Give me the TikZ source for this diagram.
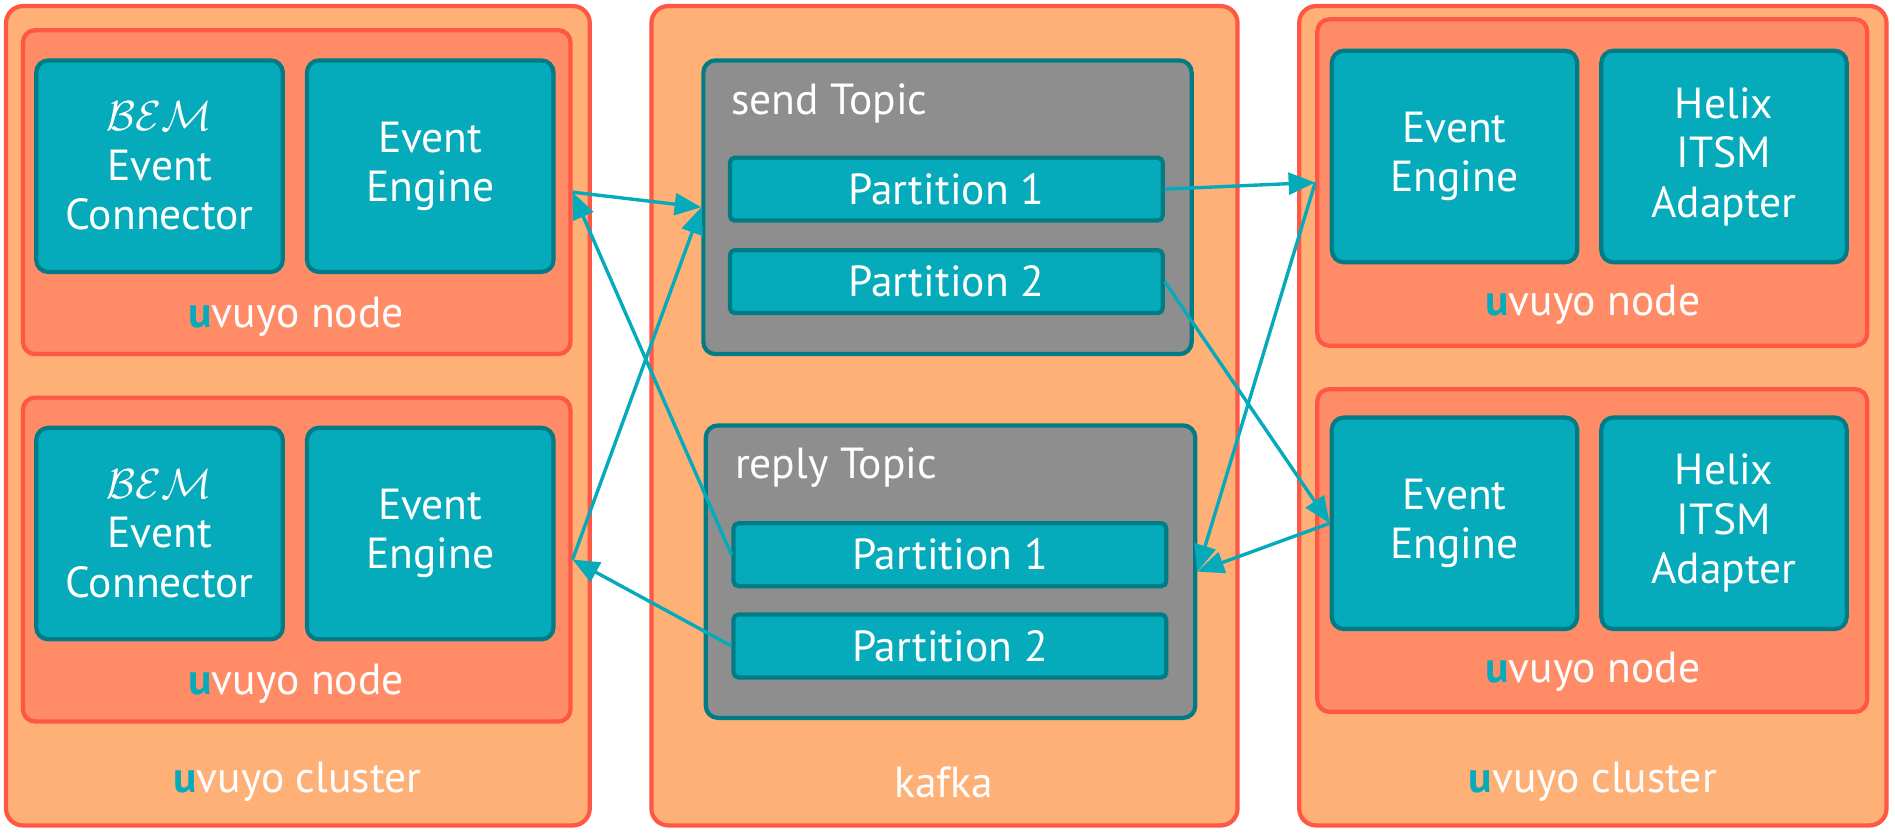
\documentclass[tikz,border=0pt]{standalone}
\usepackage{graphicx}
\usepackage{fontspec}
\setmainfont{PT Sans}
\usetikzlibrary{arrows.meta}
\definecolor{clfill}{HTML}{FFB077}
\definecolor{ndfill}{HTML}{FF8C66}
\definecolor{redline}{HTML}{FF5745}
\definecolor{tealc}{HTML}{05AABB}
\definecolor{tealdark}{HTML}{007C87}
\definecolor{grayc}{HTML}{8E8E8E}
\newcommand{\uvy}{\textcolor{tealc}{\textbf{u}}vuyo}
\newcommand{\bemlogo}{\scalebox{1.4}{$\mathcal{BEM}$}}
\begin{document}
\begin{tikzpicture}[x=1pt,y=-1pt,
  txt/.style={text=white, font=\fontsize{36}{41}\selectfont, inner sep=0pt},
  cluster/.style={draw=redline, line width=3.5pt, fill=clfill, rounded corners=14pt, inner sep=0pt},
  unode/.style={draw=redline, line width=3.5pt, fill=ndfill, rounded corners=10pt, inner sep=0pt},
  tbox/.style={draw=tealdark, line width=3.5pt, fill=tealc, rounded corners=10pt, txt, align=center, minimum width=204pt, minimum height=175pt},
  topic/.style={draw=tealdark, line width=3.5pt, fill=grayc, rounded corners=10pt, inner sep=0pt},
  part/.style={draw=tealdark, line width=3.5pt, fill=tealc, rounded corners=4pt, txt, minimum width=358pt, minimum height=52pt},
  conn/.style={draw=tealc, line width=2.8pt, -{Triangle[length=22pt,width=18pt]}}]
\useasboundingbox (0,0) rectangle (1568,689);
% left cluster
\node[cluster, minimum width=483pt, minimum height=678pt] (cl1) at (246.5,344) {};
\node[unode, minimum width=453pt, minimum height=268pt] (n1) at (245.5,159) {};
\node[tbox] (bem1) at (132,137.5) {\bemlogo\\Event\\Connector};
\node[tbox] (ee1) at (356,137.5) {Event\\Engine};
\node[txt] (l1) at (245,262) {\uvy{} node};
\node[unode, minimum width=453pt, minimum height=268pt] (n2) at (245.5,463) {};
\node[tbox] (bem2) at (132,441.5) {\bemlogo\\Event\\Connector};
\node[tbox] (ee2) at (356,441.5) {Event\\Engine};
\node[txt] (l2) at (245,566) {\uvy{} node};
\node[txt] (lc1) at (246,647) {\uvy{} cluster};
% kafka
\node[cluster, minimum width=485pt, minimum height=678pt] (kf) at (781.5,344) {};
\node[topic, minimum width=404pt, minimum height=243pt] (send) at (784,171.5) {};
\node[txt, anchor=west] (sendl) at (605,86) {send Topic};
\node[part] (sp1) at (783,156.5) {Partition 1};
\node[part] (sp2) at (783,233) {Partition 2};
\node[topic, minimum width=405pt, minimum height=242pt] (reply) at (786.5,473) {};
\node[txt, anchor=west] (replyl) at (608,387) {reply Topic};
\node[part] (rp1) at (786,459) {Partition 1};
\node[part] (rp2) at (786,534.5) {Partition 2};
\node[txt] (kfl) at (781,647) {kafka};
% right cluster
\node[cluster, minimum width=486pt, minimum height=678pt] (cl2) at (1318,344) {};
\node[unode, minimum width=455pt, minimum height=270pt] (n3) at (1317.5,151) {};
\node[tbox, minimum width=203pt] (ee3) at (1203.5,129.5) {Event\\Engine};
\node[tbox, minimum width=203pt] (hx1) at (1426.5,129.5) {Helix\\ITSM\\Adapter};
\node[txt] (l3) at (1318,252) {\uvy{} node};
\node[unode, minimum width=455pt, minimum height=267pt] (n4) at (1317.5,455.5) {};
\node[tbox, minimum width=203pt] (ee4) at (1203.5,433) {Event\\Engine};
\node[tbox, minimum width=203pt] (hx2) at (1426.5,433) {Helix\\ITSM\\Adapter};
\node[txt] (l4) at (1318,556) {\uvy{} node};
\node[txt] (lc2) at (1318,647) {\uvy{} cluster};
% connectors
\draw[conn] (n1.east) -- (send.west);
\draw[conn] (n2.east) -- (send.west);
\draw[conn] (rp1.west) -- (n1.east);
\draw[conn] (rp2.west) -- (n2.east);
\draw[conn] (sp1.east) -- (n3.west);
\draw[conn] (sp2.east) -- (ee4.west);
\draw[conn] (n3.west) -- (reply.east);
\draw[conn] (ee4.west) -- (reply.east);
\end{tikzpicture}
\end{document}
